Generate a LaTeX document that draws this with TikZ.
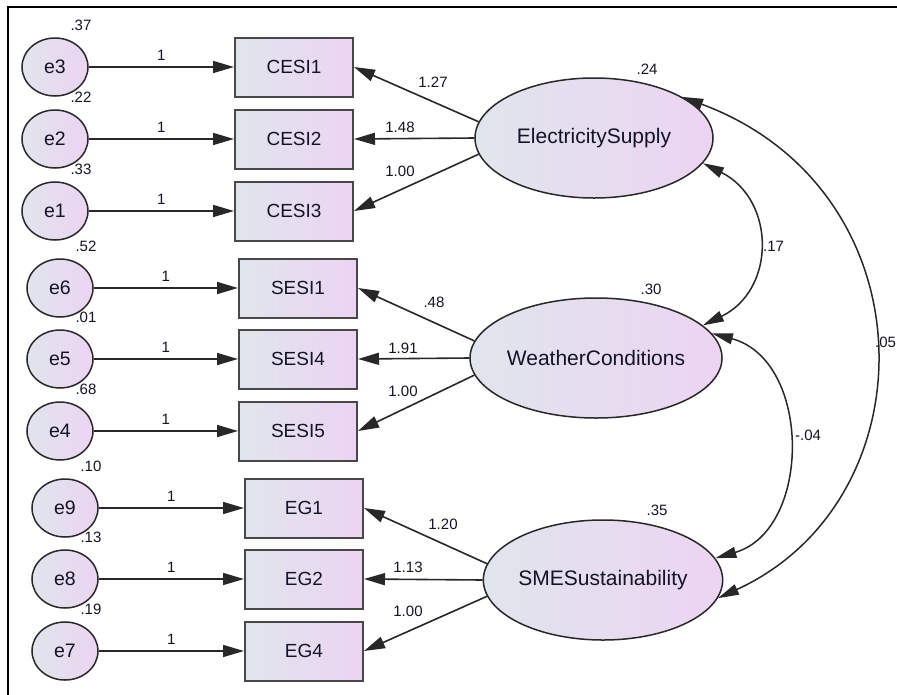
\documentclass[tikz,border=0pt]{standalone}
\usepackage{fontspec}
\setmainfont{Liberation Sans}
\usetikzlibrary{shapes.geometric,arrows.meta}
\definecolor{shL}{RGB}{224,229,236}
\definecolor{shR}{RGB}{236,212,242}
\definecolor{ln}{RGB}{40,40,40}
\definecolor{txt}{RGB}{20,20,40}
\begin{document}
\begin{tikzpicture}[x=1pt,y=-1pt,
 errnode/.style={ellipse, draw=ln, line width=1.5pt, left color=shL, right color=shR, minimum width=66pt, minimum height=58pt, inner sep=0pt, text=txt, font=\fontsize{19.5}{20}\selectfont},
 obsnode/.style={rectangle, draw=ln!85, line width=2pt, left color=shL, right color=shR, minimum width=118pt, minimum height=59pt, inner sep=0pt, text=txt, font=\fontsize{19}{20}\selectfont},
 latnode/.style={ellipse, draw=ln, line width=1.5pt, left color=shL, right color=shR, minimum width=238pt, minimum height=120pt, inner sep=0pt, text=txt, font=\fontsize{21}{22}\selectfont},
 num/.style={font=\fontsize{15}{16}\selectfont, inner sep=0pt, text=txt},
 arr/.style={draw=ln, line width=1.6pt, -{Triangle[length=21pt,width=12pt]}},
 cov/.style={draw=ln, line width=1.5pt, {Triangle[length=21pt,width=11pt]}-{Triangle[length=21pt,width=11pt]}},
 one/.style={midway, num, yshift=12pt},
]
\clip (0,0) rectangle (897,694);
\fill[white] (0,0) rectangle (897,694);

% error terms
\node[errnode] (e3) at (55,67) {e3};
\node[errnode] (e2) at (55,139) {e2};
\node[errnode] (e1) at (55,211) {e1};
\node[errnode] (e6) at (60,288) {e6};
\node[errnode] (e5) at (60,359) {e5};
\node[errnode] (e4) at (60,431) {e4};
\node[errnode] (e9) at (65,508) {e9};
\node[errnode] (e8) at (65,579) {e8};
\node[errnode] (e7) at (65,651) {e7};

% observed
\node[obsnode] (CESI1) at (294,67) {CESI1};
\node[obsnode] (CESI2) at (294,139) {CESI2};
\node[obsnode] (CESI3) at (294,211) {CESI3};
\node[obsnode] (SESI1) at (298,288) {SESI1};
\node[obsnode] (SESI4) at (298,359) {SESI4};
\node[obsnode] (SESI5) at (298,431) {SESI5};
\node[obsnode] (EG1) at (304,508) {EG1};
\node[obsnode] (EG2) at (304,579) {EG2};
\node[obsnode] (EG4) at (304,651) {EG4};

% latent
\node[latnode] (ES) at (594,138) {ElectricitySupply};
\node[latnode] (WC) at (596,358) {WeatherConditions};
\node[latnode] (SME) at (603,580) {SMESustainability};

% error paths
\foreach \e/\o in {e3/CESI1,e2/CESI2,e1/CESI3,e6/SESI1,e5/SESI4,e4/SESI5,e9/EG1,e8/EG2,e7/EG4}
  \draw[arr] (\e.east) -- (\o.west) node[one] {1};

% variances of errors
\foreach \e/\v in {e3/.37,e2/.22,e1/.33,e6/.52,e5/.01,e4/.68,e9/.10,e8/.13,e7/.19}
  \node[num] (v\e) at ([shift={(26,-42)}]\e.center) {\v};

% loadings
\draw[arr] (ES.172) -- (CESI1.east);
\draw[arr] (ES.west) -- (CESI2.east);
\draw[arr] (ES.188) -- (CESI3.east);
\draw[arr] (WC.172) -- (SESI1.east);
\draw[arr] (WC.west) -- (SESI4.east);
\draw[arr] (WC.188) -- (SESI5.east);
\draw[arr] (SME.172) -- (EG1.east);
\draw[arr] (SME.west) -- (EG2.east);
\draw[arr] (SME.188) -- (EG4.east);

\node[num] (l1) at (433,82) {1.27};
\node[num] (l2) at (400,127) {1.48};
\node[num] (l3) at (400,171) {1.00};
\node[num] (l4) at (434,302) {.48};
\node[num] (l5) at (403,348) {1.91};
\node[num] (l6) at (403,391) {1.00};
\node[num] (l7) at (443,524) {1.20};
\node[num] (l8) at (408,567) {1.13};
\node[num] (l9) at (408,611) {1.00};

% latent variances
\node[num] (vES) at (647,69) {.24};
\node[num] (vWC) at (651,289) {.30};
\node[num] (vSME) at (657,510) {.35};

% covariances
\draw[cov] (ES.-13) .. controls (776,200) and (776,290) .. (WC.17);
\draw[cov] (WC.12) .. controls (812,360) and (812,530) .. (SME.11);
\draw[cov] (ES.25) .. controls (932,190) and (932,500) .. (SME.-9);
\node[num, anchor=west] (c1) at (763,246) {.17};
\node[num, anchor=west] (c2) at (795,435) {-.04};
\node[num, anchor=west] (c3) at (875,342) {.05};

% frame
\draw[line width=2.5pt] (8,700) -- (8,7) -- (900,7);
\end{tikzpicture}
\end{document}
